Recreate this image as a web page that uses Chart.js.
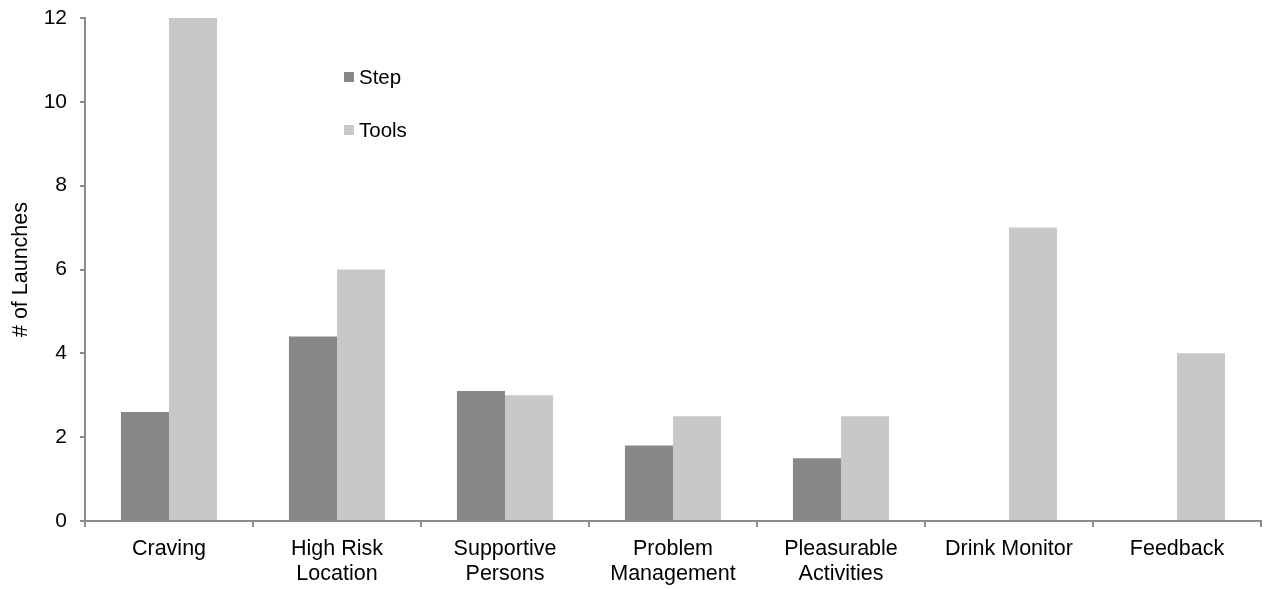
<!DOCTYPE html>
<html>
<head>
<meta charset="utf-8">
<script src="https://cdn.jsdelivr.net/npm/chart.js@4/dist/chart.umd.min.js"></script>
<style>
  html, body { margin: 0; padding: 0; background: #fff; }
  #wrap { width: 1270px; height: 589px; }
</style>
</head>
<body>
<div id="wrap"><canvas id="launchChart" width="1270" height="589"></canvas></div>
<script>
var categories = ['Craving', ['High Risk', 'Location'], ['Supportive', 'Persons'], ['Problem', 'Management'], ['Pleasurable', 'Activities'], 'Drink Monitor', 'Feedback'];
var stepValues = [2.6, 4.4, 3.1, 1.8, 1.5, 0, 0];
var toolsValues = [12, 6, 3, 2.5, 2.5, 7, 4];
var seriesNames = ['Step', 'Tools'];
var seriesColors = ['#888888', '#c8c8c8'];
var yTicks = [0, 2, 4, 6, 8, 10, 12];

var axisColor = '#8a8a8a';
var fontFamily = '"Liberation Sans", Arial, sans-serif';

// legend drawn inside the plot, stacked like the original
var insideLegend = {
  id: 'insideLegend',
  afterDraw: function(chart) {
    var ctx = chart.ctx;
    var x = 344, y0 = 77, gap = 53;
    ctx.save();
    ctx.font = '20.5px ' + fontFamily;
    ctx.textBaseline = 'middle';
    chart.data.datasets.forEach(function(ds, i) {
      var y = y0 + i * gap;
      ctx.fillStyle = ds.backgroundColor;
      ctx.fillRect(x, y - 5, 10, 10);
      ctx.fillStyle = '#000';
      ctx.fillText(ds.label, x + 15, y + 1);
    });
    ctx.restore();
  }
};

var ctx = document.getElementById('launchChart').getContext('2d');
new Chart(ctx, {
  type: 'bar',
  data: {
    labels: categories,
    datasets: [
      { label: seriesNames[0], data: stepValues, backgroundColor: seriesColors[0], borderWidth: 0 },
      { label: seriesNames[1], data: toolsValues, backgroundColor: seriesColors[1], borderWidth: 0 }
    ]
  },
  options: {
    responsive: false,
    animation: false,
    layout: { padding: { top: 18, right: 9, left: 8, bottom: 0 } },
    plugins: { legend: { display: false }, tooltip: { enabled: false } },
    datasets: { bar: { categoryPercentage: 0.572, barPercentage: 1.0 } },
    scales: {
      x: {
        offset: true,
        grid: { offset: true, drawOnChartArea: false, drawTicks: true, tickLength: 6, color: axisColor, lineWidth: 2 },
        border: { color: axisColor, width: 2 },
        ticks: { color: '#000', font: { family: fontFamily, size: 21.5, lineHeight: 1.15 }, padding: 10, maxRotation: 0, autoSkip: false },
        afterFit: function(s) { s.height = 68; }
      },
      y: {
        min: 0,
        max: 12,
        afterBuildTicks: function(s) { s.ticks = yTicks.map(function(v) { return { value: v }; }); },
        grid: { drawOnChartArea: false, drawTicks: true, tickLength: 5, color: axisColor, lineWidth: 2 },
        border: { color: axisColor, width: 2 },
        ticks: { color: '#000', font: { family: fontFamily, size: 21 }, padding: 13 },
        title: { display: true, text: '# of Launches', color: '#000', font: { family: fontFamily, size: 21.5 }, padding: 0 },
        afterFit: function(s) { s.width = 77; s.paddingTop = 0; s.paddingBottom = 0; }
      }
    }
  },
  plugins: [insideLegend]
});
</script>
</body>
</html>
